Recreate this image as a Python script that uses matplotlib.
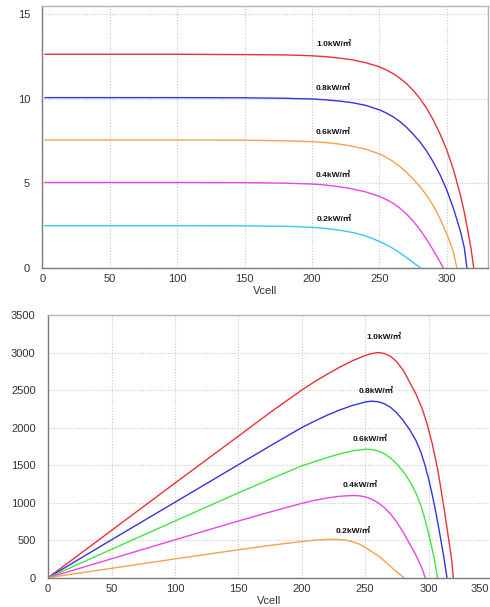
import matplotlib
matplotlib.use("Agg")
import matplotlib.pyplot as plt
import matplotlib.transforms as mtransforms

plt.rcParams["font.family"] = ["Liberation Sans", "DejaVu Sans"]

# ---- I-V curves (top chart) ----
irr_labels = ["1.0kW/㎡", "0.8kW/㎡", "0.6kW/㎡", "0.4kW/㎡", "0.2kW/㎡"]

iv_v_10 = [2, 100, 150, 180, 190, 200, 210, 220, 230, 240, 250, 255, 260, 265, 270, 275, 280,
           285, 290, 295, 300, 305, 310, 313, 316, 318, 320]
iv_i_10 = [12.62, 12.62, 12.6, 12.58, 12.56, 12.53, 12.48, 12.40, 12.29, 12.12, 11.88, 11.70,
           11.49, 11.22, 10.90, 10.50, 10.02, 9.44, 8.74, 7.92, 6.97, 5.80, 4.35, 3.30, 2.05,
           1.15, 0.0]

iv_v_08 = [2, 100, 150, 180, 200, 210, 220, 230, 240, 250, 255, 260, 265, 270, 275, 280, 285,
           290, 295, 300, 305, 310, 313, 315]
iv_i_08 = [10.06, 10.06, 10.05, 10.02, 9.98, 9.93, 9.86, 9.76, 9.60, 9.34, 9.16, 8.94, 8.66,
           8.32, 7.91, 7.46, 6.91, 6.26, 5.51, 4.61, 3.51, 2.21, 1.21, 0.0]

iv_v_06 = [2, 100, 150, 180, 200, 210, 220, 230, 240, 250, 255, 260, 265, 270, 275, 280, 285,
           290, 295, 300, 303, 305, 307.5]
iv_i_06 = [7.56, 7.56, 7.55, 7.51, 7.46, 7.41, 7.32, 7.19, 7.01, 6.74, 6.54, 6.30, 6.00, 5.66,
           5.26, 4.82, 4.30, 3.68, 2.92, 2.02, 1.40, 0.92, 0.0]

iv_v_04 = [2, 100, 150, 180, 200, 210, 220, 230, 240, 250, 255, 260, 265, 270, 275, 280, 285,
           290, 294, 297.5]
iv_i_04 = [5.05, 5.05, 5.04, 5.01, 4.96, 4.90, 4.80, 4.67, 4.49, 4.23, 4.05, 3.83, 3.55, 3.20,
           2.78, 2.28, 1.70, 1.05, 0.50, 0.0]

iv_v_02 = [2, 100, 150, 180, 190, 200, 210, 220, 230, 235, 240, 245, 250, 255, 260, 265, 270,
           275, 280.5]
iv_i_02 = [2.5, 2.5, 2.49, 2.46, 2.44, 2.40, 2.34, 2.24, 2.10, 2.00, 1.88, 1.74, 1.57, 1.38,
           1.16, 0.91, 0.63, 0.33, 0.0]

# ---- P-V curves (bottom chart) ----
pv_v_10 = [0, 50, 100, 150, 175, 200, 210, 220, 230, 240, 250, 255, 260, 265, 270, 275, 280,
           284, 290, 295, 299, 303, 307, 310, 313, 315, 317, 318.5, 319.5]
pv_p_10 = [0, 630, 1260, 1885, 2200, 2500, 2610, 2710, 2805, 2890, 2960, 2985, 3000, 2988,
           2950, 2875, 2765, 2640, 2450, 2250, 2040, 1780, 1460, 1160, 840, 610, 385, 200, 0]

pv_v_08 = [0, 50, 100, 150, 175, 200, 210, 220, 230, 240, 250, 255, 260, 265, 270, 275, 280,
           285, 290, 294, 297, 300, 303, 306, 309, 312, 314.5]
pv_p_08 = [0, 505, 1005, 1505, 1755, 2000, 2085, 2165, 2235, 2295, 2340, 2352, 2345, 2318,
           2270, 2195, 2095, 1975, 1830, 1670, 1510, 1320, 1100, 850, 570, 280, 0]

pv_v_06 = [0, 50, 100, 150, 175, 200, 210, 220, 230, 240, 250, 255, 260, 265, 270, 275, 280,
           285, 290, 294, 297, 300, 303, 305, 307]
pv_p_06 = [0, 378, 755, 1130, 1312, 1490, 1545, 1600, 1650, 1690, 1712, 1708, 1690, 1652,
           1595, 1515, 1415, 1290, 1130, 960, 790, 590, 370, 210, 0]

pv_v_04 = [0, 50, 100, 150, 175, 200, 210, 220, 230, 240, 245, 250, 255, 260, 265, 270, 275,
           280, 285, 290, 294, 297.5]
pv_p_04 = [0, 252, 505, 755, 875, 990, 1030, 1062, 1085, 1095, 1092, 1078, 1048, 1000, 935,
           850, 740, 605, 455, 300, 160, 0]

pv_v_02 = [0, 50, 100, 150, 175, 200, 210, 220, 225, 230, 235, 240, 245, 250, 255, 260, 265,
           270, 275, 278, 280.5]
pv_p_02 = [0, 125, 250, 372, 430, 482, 500, 510, 511, 508, 500, 480, 450, 405, 350, 295, 225,
           150, 75, 35, 0]

# label anchor positions (data coords)
iv_label_x = [203, 203, 203, 203, 203.5]
iv_label_y = [13.17, 10.62, 8.02, 5.45, 2.85]
pv_label_x = [251.2, 244.7, 240.2, 232.0, 226.8]
pv_label_y = [3197, 2487, 1838, 1230, 622]

iv_colors = ["#e8323a", "#3434dc", "#f3a24e", "#ea45e6", "#38c8ec"]
pv_colors = ["#e8323a", "#3434dc", "#44e444", "#ea45e6", "#f3a24e"]

iv_series = [(iv_v_10, iv_i_10), (iv_v_08, iv_i_08), (iv_v_06, iv_i_06),
             (iv_v_04, iv_i_04), (iv_v_02, iv_i_02)]
pv_series = [(pv_v_10, pv_p_10), (pv_v_08, pv_p_08), (pv_v_06, pv_p_06),
             (pv_v_04, pv_p_04), (pv_v_02, pv_p_02)]

W, H = 490, 607
fig = plt.figure(figsize=(W / 100, H / 100), dpi=100)
ax1 = fig.add_axes([42.3 / W, (H - 268) / H, (488 - 42.3) / W, 262 / H])
ax2 = fig.add_axes([48.1 / W, (H - 577.7) / H, (495 - 48.1) / W, 262.7 / H])

label_font = ["Liberation Sans", "Noto Sans CJK SC", "DejaVu Sans"]


def style_axes(ax, ypad, xpad):
    ax.grid(True, color="#c8c8c8", linestyle=(0, (1, 1.5)), linewidth=0.8)
    ax.set_axisbelow(True)
    for side in ["left", "bottom"]:
        ax.spines[side].set_color("#7a7a7a")
        ax.spines[side].set_linewidth(1.0)
    for side in ["top", "right"]:
        ax.spines[side].set_color("#b5b5b5")
        ax.spines[side].set_linewidth(1.0)
    ax.tick_params(axis="both", length=0, labelsize=8, labelcolor="#333333")
    ax.tick_params(axis="y", pad=ypad)
    ax.tick_params(axis="x", pad=xpad)
    ax.set_xlabel("Vcell", fontsize=8, color="#333333")


# top chart
for (v, i), c in zip(iv_series, iv_colors):
    ax1.plot(v, i, color=c, linewidth=1.0)
for x, y, t in zip(iv_label_x, iv_label_y, irr_labels):
    ax1.text(x, y, t, fontsize=6, fontweight="bold", ha="left", va="center",
             family=label_font, color="#111111")
ax1.set_xlim(0, 330.6)
ax1.set_ylim(0, 15.47)
ax1.set_xticks([0, 50, 100, 150, 200, 250, 300])
ax1.set_yticks([0, 5, 10, 15])
style_axes(ax1, 8.8, 4.3)
ax1.xaxis.set_label_coords(0.5, -0.069)

# bottom chart
for (v, p), c in zip(pv_series, pv_colors):
    ax2.plot(v, p, color=c, linewidth=1.0)
for x, y, t in zip(pv_label_x, pv_label_y, irr_labels):
    ax2.text(x, y, t, fontsize=6, fontweight="bold", ha="left", va="center",
             family=label_font, color="#111111")
ax2.set_xlim(0, 352.4)
ax2.set_ylim(0, 3500)
ax2.set_xticks([0, 50, 100, 150, 200, 250, 300, 350])
ax2.set_yticks([0, 500, 1000, 1500, 2000, 2500, 3000, 3500])
style_axes(ax2, 9.0, 4.5)
ax2.xaxis.set_label_coords(0.495, -0.0685)

# the last x label is pulled in from the cropped right edge
last = ax2.get_xticklabels()[-1]
last.set_transform(last.get_transform() +
                   mtransforms.ScaledTranslation(-12 / 100, 0, fig.dpi_scale_trans))

fig.savefig("out.png", dpi=100)
